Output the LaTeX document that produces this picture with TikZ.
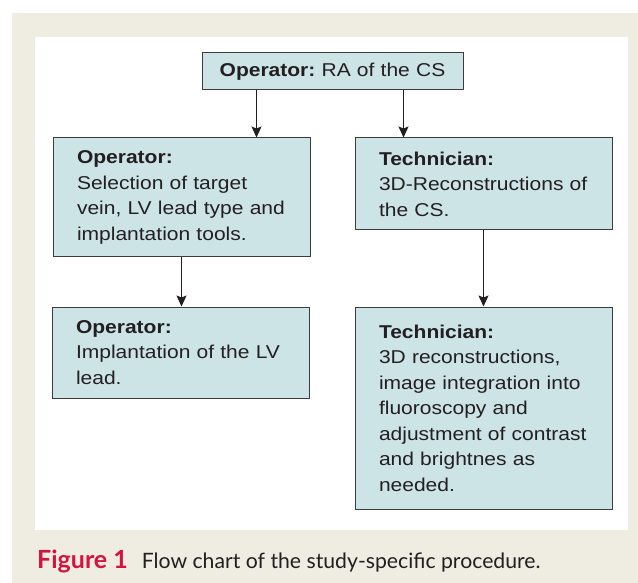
\documentclass[tikz,border=0pt]{standalone}
\usepackage{fontspec}
\setmainfont{Liberation Sans}[FakeStretch=1.13]
\newfontfamily\capfont{Lato}
\usetikzlibrary{arrows.meta}
\frenchspacing

\definecolor{panelbg}{HTML}{EFECE2}
\definecolor{boxfill}{HTML}{CDE4E7}
\definecolor{inkgrey}{HTML}{231F20}
\definecolor{boxline}{HTML}{3C3C3C}
\definecolor{figred}{HTML}{D4143F}

\begin{document}
\begin{tikzpicture}[x=1pt, y=-1pt,
    stepbox/.style={draw=boxline, line width=1pt, fill=boxfill, text=inkgrey,
      font=\fontsize{18.6}{25.5}\selectfont, text width=209pt,
      inner xsep=24pt, inner ysep=0pt, align=left},
    arr/.style={draw=inkgrey, line width=1pt,
      -{Stealth[length=11pt, width=10pt, inset=2pt]}}]
    \useasboundingbox (0, 0) rectangle (638, 583);

    % panel and white sheet
    \fill [panelbg] (12, 13) rectangle (638, 583);
    \fill [white] (35, 37) rectangle (628, 530);

    \node [stepbox, text width=245pt, inner xsep=8pt, align=center, minimum height=37pt] (racs) at (332.5, 71.5)
      {\textbf{Operator:} RA of the CS};

    \node [stepbox, minimum height=119pt] (select) at (181.5, 197.5)
      {\textbf{Operator:}\\Selection of target\\vein, LV lead type and\\implantation tools.};
    \node [stepbox, minimum height=92pt] (recon3d) at (483.5, 184)
      {\textbf{Technician:}\\3D-Reconstructions of\\the CS.};

    \node [stepbox, minimum height=91pt] (implant) at (180.5, 352.5)
      {\textbf{Operator:}\\Implantation of the LV\\lead.};
    \node [stepbox, minimum height=202pt] (integrate) at (483.5, 408)
      {\textbf{Technician:}\\3D reconstructions,\\image integration into\\fluoroscopy and\\adjustment of contrast\\and brightnes as\\needed.};

    \draw [arr] ([xshift=55pt]racs.south west) -- ([xshift=55pt]racs.south west |- select.north);
    \draw [arr] ([xshift=-60pt]racs.south east) -- ([xshift=-60pt]racs.south east |- recon3d.north);
    \draw [arr] (select.south) -- (select.south |- implant.north);
    \draw [arr] (recon3d.south) -- (recon3d.south |- integrate.north);

    \node [anchor=base west, inner sep=0pt, text=inkgrey, font=\capfont\fontsize{21.2}{25}\selectfont] (caption) at (37, 568)
      {\textcolor{figred}{\fontsize{25}{25}\selectfont\bfseries Figure 1}\hspace{14pt}Flow chart of the study-specific procedure.};
\end{tikzpicture}
\end{document}
